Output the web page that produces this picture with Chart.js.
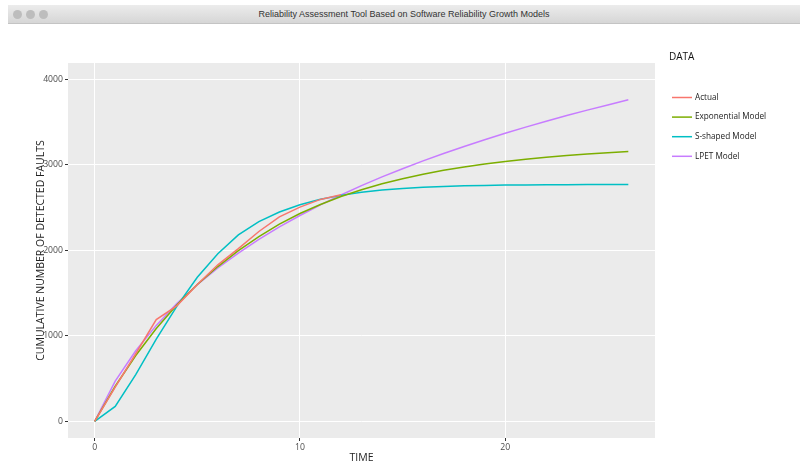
<!DOCTYPE html>
<html>
<head>
<meta charset="utf-8">
<script src="https://cdn.jsdelivr.net/npm/chart.js@4.4.1/dist/chart.umd.min.js"></script>
<style>
  body { margin: 0; background: #fff; }
  #wrap { position: relative; width: 800px; height: 462px; overflow: hidden; }
  #titlebar {
    position: absolute; left: 8px; top: 5px; width: 792px; height: 18px;
    background: linear-gradient(#ececec, #d6d6d6);
    border-bottom: 1px solid #c4c4c4;
    font: 9px "Liberation Sans", Arial, sans-serif; color: #333;
    text-align: center; line-height: 18px;
  }
  .dot { position: absolute; top: 4.5px; width: 9px; height: 9px; border-radius: 50%; background: #bdbdbd; }
  canvas { position: absolute; left: 0; top: 0; }
</style>
</head>
<body>
<div id="wrap">
  <canvas id="chart" width="800" height="462"></canvas>
  <div id="titlebar">
    <span class="dot" style="left:5px"></span>
    <span class="dot" style="left:18px"></span>
    <span class="dot" style="left:31px"></span>
    Reliability Assessment Tool Based on Software Reliability Growth Models
  </div>
</div>
<script>
// values
const times = [0, 1, 2, 3, 4, 5, 6, 7, 8, 9, 10, 11, 12, 13, 14, 15, 16, 17, 18, 19, 20, 21, 22, 23, 24, 25, 26];
const actual = [0, 400, 790, 1190, 1350, 1600, 1830, 2020, 2220, 2390, 2505, 2595, 2650];
const exponentialModel = [0, 410, 770, 1085, 1360, 1600, 1810, 1995, 2160, 2305, 2430, 2535, 2628, 2708, 2777, 2837, 2890, 2935, 2975, 3009, 3039, 3065, 3088, 3108, 3125, 3141, 3155];
const sShapedModel = [0, 175, 545, 960, 1345, 1685, 1960, 2180, 2335, 2448, 2532, 2596, 2642, 2678, 2704, 2723, 2737, 2747, 2754, 2759, 2762, 2764, 2766, 2767, 2768, 2769, 2769];
const lpetModel = [0, 470, 825, 1122, 1376, 1597, 1793, 1968, 2127, 2273, 2407, 2531, 2647, 2756, 2858, 2954, 3045, 3132, 3214, 3292, 3368, 3440, 3509, 3575, 3639, 3700, 3760];
const seriesNames = ['Actual', 'Exponential Model', 'S-shaped Model', 'LPET Model'];
const xTicks = [0, 10, 20];
const yTicks = [0, 1000, 2000, 3000, 4000];

const colors = ['#F8766D', '#7CAE00', '#00BFC4', '#C77CFF'];
const toPoints = arr => arr.map((v, i) => ({ x: times[i], y: v }));

// grey ggplot-like panel
const panelBg = {
  id: 'panelBg',
  beforeDraw(chart) {
    const { ctx, chartArea: a } = chart;
    ctx.save();
    ctx.fillStyle = '#EBEBEB';
    ctx.fillRect(a.left, a.top, a.right - a.left, a.bottom - a.top);
    ctx.restore();
  }
};

// legend on the right with "DATA" title
const sideLegend = {
  id: 'sideLegend',
  afterDraw(chart) {
    const ctx = chart.ctx;
    ctx.save();
    ctx.fillStyle = '#111';
    ctx.font = '10px "Open Sans"';
    ctx.textBaseline = 'middle';
    ctx.fillText('DATA', 669, 57);
    ctx.font = '8.2px "Open Sans"';
    chart.data.datasets.forEach((ds, i) => {
      const y = 97.5 + i * 19.6;
      ctx.strokeStyle = ds.borderColor;
      ctx.lineWidth = 1.5;
      ctx.beginPath();
      ctx.moveTo(672, y);
      ctx.lineTo(692, y);
      ctx.stroke();
      ctx.fillStyle = '#222';
      ctx.fillText(ds.label, 695, y);
    });
    ctx.restore();
  }
};

const series = [actual, exponentialModel, sShapedModel, lpetModel];

new Chart(document.getElementById('chart'), {
  type: 'line',
  data: {
    datasets: series.map((s, i) => ({
      label: seriesNames[i],
      data: toPoints(s),
      borderColor: colors[i],
      backgroundColor: colors[i],
      borderWidth: 1.5,
      pointRadius: 0,
      tension: 0,
      fill: false
    }))
  },
  options: {
    responsive: false,
    animation: false,
    layout: { padding: { left: 0, top: 63, right: 145, bottom: 0 } },
    plugins: { legend: { display: false }, tooltip: { enabled: false } },
    scales: {
      x: {
        type: 'linear',
        min: -1.3,
        max: 27.3,
        afterBuildTicks: s => { s.ticks = xTicks.map(v => ({ value: v })); },
        afterFit: s => { s.height = 24; },
        grid: { color: '#fff', lineWidth: 1, tickColor: '#333', tickLength: 3 },
        border: { display: false },
        ticks: { color: '#4D4D4D', font: { family: 'Open Sans', size: 8.7 }, padding: 1, maxRotation: 0 },
        title: { display: true, text: 'TIME', color: '#222', font: { family: 'Open Sans', size: 10.5, lineHeight: 0.7 }, padding: 0 }
      },
      y: {
        min: -195,
        max: 4190,
        afterBuildTicks: s => { s.ticks = yTicks.map(v => ({ value: v })); },
        afterFit: s => { s.width = 68; },
        grid: { color: '#fff', lineWidth: 1, tickColor: '#333', tickLength: 3 },
        border: { display: false },
        ticks: { color: '#4D4D4D', font: { family: 'Open Sans', size: 8.7 }, padding: 2, callback: v => String(v) },
        title: { display: true, text: 'CUMULATIVE NUMBER OF DETECTED FAULTS', color: '#222', font: { family: 'Open Sans', size: 10.5, lineHeight: 1.2 }, padding: { top: 35 } }
      }
    }
  },
  plugins: [panelBg, sideLegend]
});
</script>
</body>
</html>
